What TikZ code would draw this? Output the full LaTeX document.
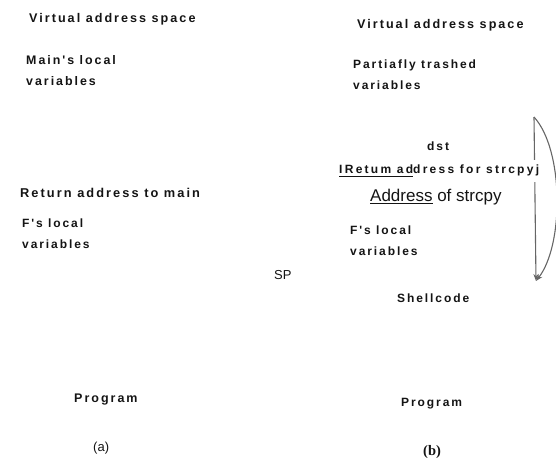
\documentclass[tikz,border=0pt]{standalone}
\usepackage{fontspec}
\setmainfont{Liberation Sans}
\newfontfamily\lsb[LetterSpace=16]{Liberation Sans Bold}
\newfontfamily\lsbw[LetterSpace=19]{Liberation Sans Bold}
\newfontfamily\tms{Liberation Serif}
\usetikzlibrary{arrows.meta}
\newcommand\myul[1]{\setbox0=\hbox{#1}\rlap{\rule[-3pt]{\wd0}{1.3pt}}\box0\relax}
\tikzset{
  lbl/.style={anchor=west, inner sep=0pt, text=black!92, font=\lsb\fontsize{12}{21}\selectfont, align=left},
  lblsz/.style={font=\lsb\fontsize{#1}{21}\selectfont},
  reg/.style={anchor=west, inner sep=0pt, text=black!92, font=\fontsize{13}{15}\selectfont},
  arcline/.style={draw=black!60, line width=1.1pt}
}
\begin{document}
\begin{tikzpicture}[x=1pt,y=-1pt]
\useasboundingbox (0,0) rectangle (556,462);
% panel (a)
\node[lbl, lblsz=12.6] (vas1) at (29,19) {Virtual address space};
\node[lbl, lblsz=12.4] (main) at (26,71) {Main's local\\variables};
\node[lbl, lblsz=12.8] (ret) at (20,193) {Return address to main};
\node[lbl] (fl1) at (22,234) {F's local\\variables};
\node[reg] (sp) at (274,275) {SP};
\node[lbl, lblsz=12.5] (prog1) at (74,400) {Program};
\node[reg] (a) at (93,448) {(a)};
% panel (b)
\coordinate (top) at (534,117);
\coordinate (bot) at (536,281);
\draw[arcline, -{Stealth[length=7pt,width=5pt]}] (top) -- (bot);
\draw[arcline, -{Stealth[length=7pt,width=5pt]}] (top) .. controls (564,150) and (564,245) .. (bot);
\node[lbl, lblsz=12.6] (vas2) at (357,25) {Virtual address space};
\node[lbl] (ptv) at (353,75) {Partiafly trashed\\variables};
\node[lbl] (dst) at (427,146) {dst};
\node[lbl, font=\lsbw\fontsize{12}{21}\selectfont, fill=white, inner ysep=5pt] (retcpy) at (339,171) {\myul{IRetum ad}dress for strcpyj};
\node[reg, font=\fontsize{17}{19}\selectfont] (addr) at (370,197) {\myul{Address} of strcpy};
\node[lbl] (fl2) at (350,241) {F's local\\variables};
\node[lbl] (shell) at (397,298) {Shellcode};
\node[lbl] (prog2) at (401,404) {Program};
\node[anchor=west, inner sep=0pt, text=black!92, font=\tms\bfseries\fontsize{14.5}{16}\selectfont] (b) at (423,452) {(b)};
\end{tikzpicture}
\end{document}
